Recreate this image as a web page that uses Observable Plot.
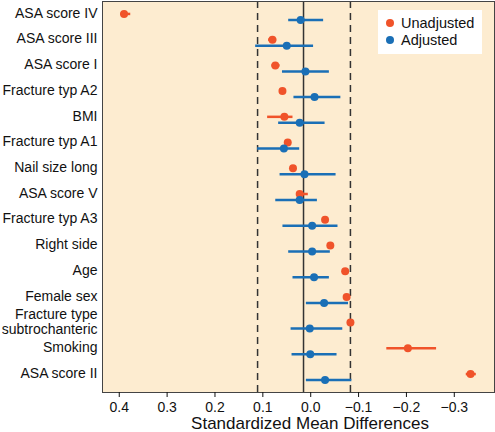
<!DOCTYPE html>
<html>
<head>
<meta charset="utf-8">
<script src="https://cdn.jsdelivr.net/npm/d3@7"></script>
<script src="https://cdn.jsdelivr.net/npm/@observablehq/plot@0.6"></script>
<style>
  body { margin: 0; background: #fff; font-family: "Liberation Sans", Arial, sans-serif; }
  #wrap { position: relative; width: 495px; height: 432px; overflow: hidden; }
  #legend { position: absolute; left: 378px; top: 10px; width: 104px; height: 44px; background: #fff; font-size: 14.5px; color: #111; }
  #legend .item { position: absolute; left: 8px; display: flex; align-items: center; }
  #legend .sw { width: 8px; height: 8px; border-radius: 50%; margin-right: 7px; }
  #title { position: absolute; left: 125px; right: 0; top: 415px; text-align: center; font-size: 17px; line-height: 17px; color: #111; }
</style>
</head>
<body>
<div id="wrap">
  <div id="chart"></div>
  <div id="legend"></div>
  <div id="title">Standardized Mean Differences</div>
</div>
<script>
const labels = ["ASA score IV","ASA score III","ASA score I","Fracture typ A2","BMI","Fracture typ A1","Nail size long","ASA score V","Fracture typ A3","Right side","Age","Female sex","Fracture type\nsubtrochanteric","Smoking","ASA score II"];

const unadjEst  = [0.390, 0.080, 0.074, 0.059, 0.055, 0.048, 0.037, 0.023, -0.030, -0.041, -0.072, -0.075, -0.083, -0.203, -0.334];
const unadjLow  = [0.376, 0.071, 0.064, 0.059, 0.037, 0.048, 0.037, 0.005, -0.030, -0.041, -0.072, -0.075, -0.083, -0.263, -0.346];
const unadjHigh = [0.397, 0.088, 0.081, 0.059, 0.090, 0.048, 0.037, 0.028, -0.030, -0.041, -0.072, -0.075, -0.083, -0.159, -0.325];

const adjEst  = [0.021, 0.050, 0.011, -0.008, 0.023, 0.056, 0.013, 0.023, -0.003, -0.003, -0.007, -0.028, 0.002, 0.001, -0.030];
const adjLow  = [-0.027, -0.006, -0.039, -0.063, -0.030, 0.023, -0.053, -0.014, -0.057, -0.041, -0.039, -0.079, -0.067, -0.055, -0.086];
const adjHigh = [0.046, 0.115, 0.059, 0.035, 0.067, 0.111, 0.064, 0.073, 0.058, 0.046, 0.037, 0.009, 0.041, 0.039, 0.009];

const thresholds = [0.111, -0.083];
const centerLine = [0.015];
const xTicks = [0.4, 0.3, 0.2, 0.1, 0, -0.1, -0.2, -0.3];
const seriesNames = ["Unadjusted", "Adjusted"];
const colors = ["#f0532a", "#1a6fb6"];

const unadj = labels.map((l, i) => ({label: l, est: unadjEst[i], lo: unadjLow[i], hi: unadjHigh[i]}));
const adj = labels.map((l, i) => ({label: l, est: adjEst[i], lo: adjLow[i], hi: adjHigh[i]}));

const bg = "#fdecd0";

const chart = Plot.plot({
  width: 495,
  height: 432,
  marginLeft: 102,
  marginRight: 1,
  marginTop: 1,
  marginBottom: 40,
  style: {fontFamily: "'Liberation Sans', Arial, sans-serif", color: "#111", background: "#fff"},
  x: {domain: [0.435, -0.384]},
  y: {type: "point", domain: labels, padding: 0.6, round: false},
  marks: [
    Plot.frame({fill: bg, stroke: null}),
    Plot.ruleX(thresholds, {stroke: "#333", strokeWidth: 1.5, strokeDasharray: "7,5"}),
    Plot.ruleX(centerLine, {stroke: "#333", strokeWidth: 1.5}),
    Plot.ruleY(unadj, {y: "label", x1: "lo", x2: "hi", stroke: colors[0], strokeWidth: 2.5, dy: -3}),
    Plot.dot(unadj, {y: "label", x: "est", fill: colors[0], r: 4, dy: -3}),
    Plot.ruleY(adj, {y: "label", x1: "lo", x2: "hi", stroke: colors[1], strokeWidth: 2.5, dy: 3}),
    Plot.dot(adj, {y: "label", x: "est", fill: colors[1], r: 4, dy: 3}),
    Plot.frame({stroke: "#444", strokeWidth: 1}),
    Plot.axisX({ticks: xTicks, tickSize: 5, tickPadding: 5, fontSize: 14, label: null}),
    Plot.axisY({tickSize: 0, tickPadding: 5, fontSize: 14, lineHeight: 1.05, label: null, dy: -4})
  ]
});
document.getElementById("chart").appendChild(chart);

const legend = document.getElementById("legend");
seriesNames.forEach((name, i) => {
  const item = document.createElement("div");
  item.className = "item";
  item.style.top = (5 + i * 17) + "px";
  const sw = document.createElement("span");
  sw.className = "sw";
  sw.style.background = colors[i];
  const t = document.createElement("span");
  t.textContent = name;
  item.appendChild(sw);
  item.appendChild(t);
  legend.appendChild(item);
});
</script>
</body>
</html>
